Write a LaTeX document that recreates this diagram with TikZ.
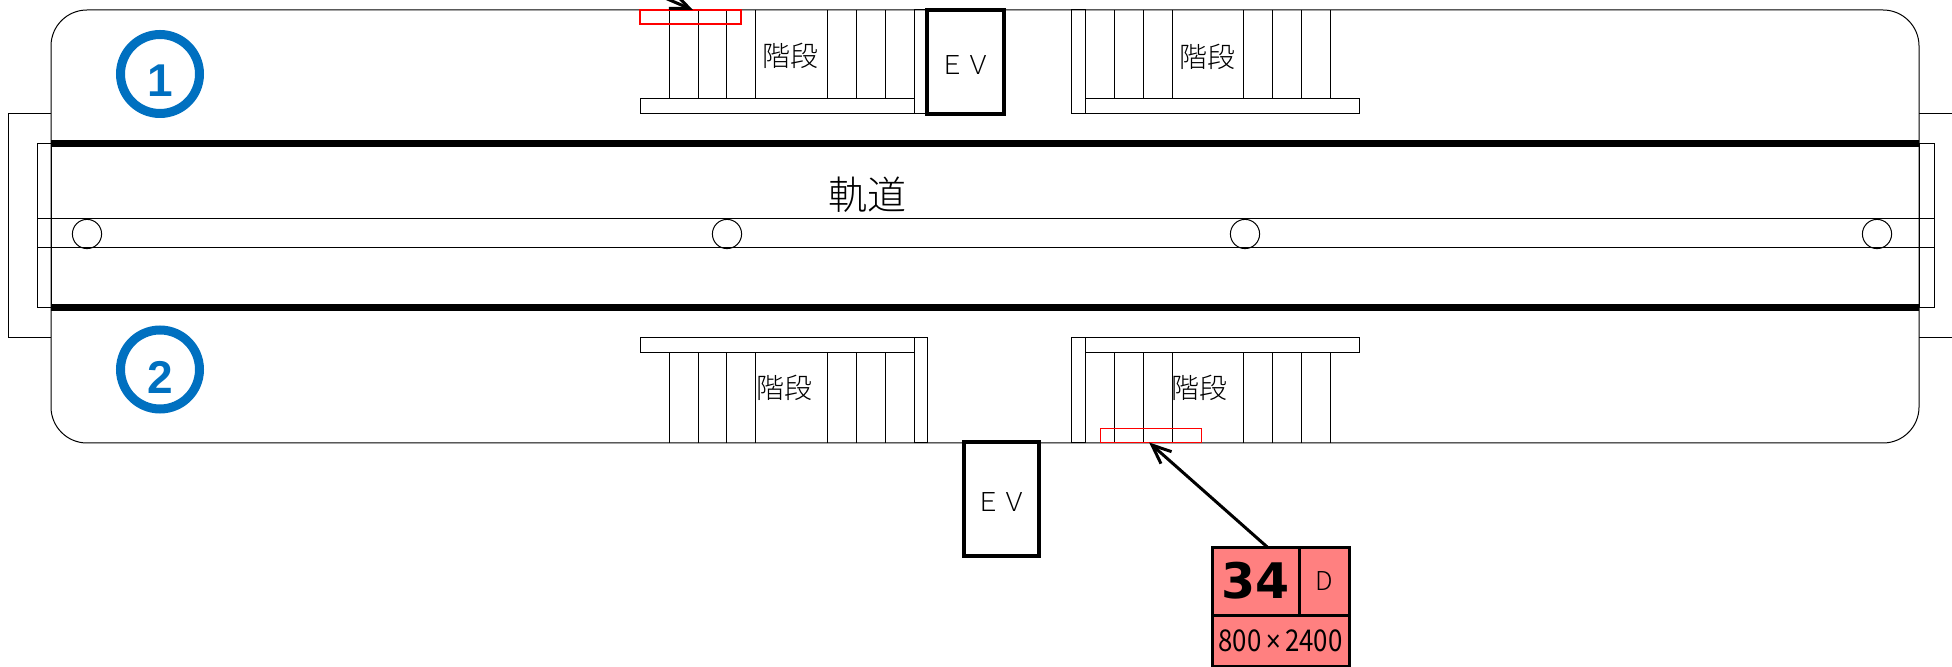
\documentclass[tikz,border=0pt]{standalone}
\usepackage{fontspec}
\setmainfont{Noto Sans CJK JP Light}
\newfontfamily\digitfont{Liberation Sans}
\newfontfamily\tagfont{DejaVu Sans}
\newfontfamily\sizefont{Noto Sans CJK JP}
\usetikzlibrary{arrows.meta}
\definecolor{ringblue}{HTML}{0070C0}
\definecolor{tagred}{HTML}{FF8080}
\tikzset{thinline/.style={line width=0.5pt}}
\tikzset{railline/.style={line width=3.5pt}}
\tikzset{evbox/.style={draw, line width=2pt, inner sep=0pt, outer sep=0pt, text height=12.5pt, text depth=0pt, font=\fontsize{13}{13}\selectfont}}
\tikzset{stairlabel/.style={inner sep=0pt, font=\fontsize{14}{14}\selectfont}}
\tikzset{numring/.style={circle, draw=ringblue, line width=4.5pt, inner sep=0pt, outer sep=0pt, minimum size=39.5pt}}
\tikzset{numtext/.style={inner sep=0pt, text=ringblue, font=\fontsize{23}{23}\digitfont\bfseries}}
\tikzset{doorbox/.style={draw=red, line width=0.75pt, inner sep=0pt, outer sep=0pt, minimum width=50.5pt, minimum height=7pt}}
\tikzset{tagcell/.style={draw, fill=tagred, line width=1.5pt, inner sep=0pt, outer sep=0pt}}
\tikzset{pointer/.style={line width=1.5pt, -{Straight Barb[length=9.5pt,width=8pt]}}}

\begin{document}
\begin{tikzpicture}[x=0.5pt,y=-0.5pt,thinline]
		\useasboundingbox (0,0) rectangle (1952,667);
		\draw[rounded corners=18pt] (51,10) rectangle (1919,443);
		\draw (51,114) -- (8,114) -- (8,338) -- (51,338);
		\draw (1952,114) -- (1919,114);
		\draw (1952,338) -- (1919,338);
		\draw (37,144) rectangle (51,308);
		\draw (1919,144) rectangle (1934,308);
		\draw (37,219) rectangle (1934,248);
		\draw[railline] (51,144) -- (1919,144);
		\draw[railline] (51,308) -- (1919,308);
		\draw (87,234) circle (14.6);
		\draw (727,234) circle (14.6);
		\draw (1245,234) circle (14.6);
		\draw (1877,234) circle (14.6);
		\node[inner sep=0pt, font=\fontsize{19.5}{20}\selectfont] (track) at (867,194.5) {軌道};
		\node[numring] (ring1) at (160,74) {};
		\node[numtext] (num1) at (160,81) {1};
		\node[numring] (ring2) at (160,369.5) {};
		\node[numtext] (num2) at (160,377) {2};
		% upper stairs
		\draw (640,99) rectangle (914,114);
		\draw (914,10) rectangle (927,114);
		\draw (669,10) -- ++(0,89) (698,10) -- ++(0,89) (726.5,10) -- ++(0,89) (755,10) -- ++(0,89);
		\draw (827,10) -- ++(0,89) (856,10) -- ++(0,89) (885,10) -- ++(0,89);
		\node[stairlabel] (stairs1) at (790,56) {階段};
		\node[evbox, minimum width=38.5pt, minimum height=52pt] (ev1) at (965.5,62) {ＥＶ};
		\draw (1085,99) rectangle (1359,114);
		\draw (1071,10) rectangle (1085,114);
		\draw (1114.5,10) -- ++(0,89) (1143,10) -- ++(0,89) (1172,10) -- ++(0,89);
		\draw (1243.5,10) -- ++(0,89) (1272.5,10) -- ++(0,89) (1301.5,10) -- ++(0,89) (1330,10) -- ++(0,89);
		\node[stairlabel] (stairs2) at (1207,57) {階段};
		% lower stairs
		\draw (640,338) rectangle (914,353);
		\draw (914,338) rectangle (927,443);
		\draw (669,353) -- ++(0,90) (698,353) -- ++(0,90) (726.5,353) -- ++(0,90) (755,353) -- ++(0,90);
		\draw (827,353) -- ++(0,90) (856,353) -- ++(0,90) (885,353) -- ++(0,90);
		\node[stairlabel] (stairs3) at (784,388) {階段};
		\node[evbox, minimum width=37.5pt, minimum height=57pt] (ev2) at (1001.5,499) {ＥＶ};
		\draw (1085,338) rectangle (1359,353);
		\draw (1071,338) rectangle (1085,443);
		\draw (1114,353) -- ++(0,90) (1143,353) -- ++(0,90) (1172,353) -- ++(0,90);
		\draw (1243.5,353) -- ++(0,90) (1272.5,353) -- ++(0,90) (1301,353) -- ++(0,90) (1330,353) -- ++(0,90);
		\node[stairlabel] (stairs4) at (1199,388) {階段};
		% red boxes and tag
		\node[doorbox] (door1) at (690.5,17) {};
		\node[doorbox] (door2) at (1151,435.5) {};
		\node[tagcell, minimum width=43.5pt, minimum height=34pt] (tagnum) at (1255.5,581) {\fontsize{24.5}{25}\tagfont\bfseries 34};
		\node[tagcell, minimum width=25pt, minimum height=34pt] (tagtype) at (1324,581) {\fontsize{13}{13}\selectfont D};
		\node[tagcell, minimum width=68.5pt, minimum height=25.5pt] (tagsize) at (1280.5,640.5) {\fontsize{15}{15}\sizefont\scalebox{0.86}[1]{800{\digitfont\,×\,}2400}};
		\coordinate (topend) at (665,-2);
		\draw[pointer] (tagnum.71) -- (door2.255);
		\draw[pointer] (topend) -- (door1.70);
\end{tikzpicture}
\end{document}
